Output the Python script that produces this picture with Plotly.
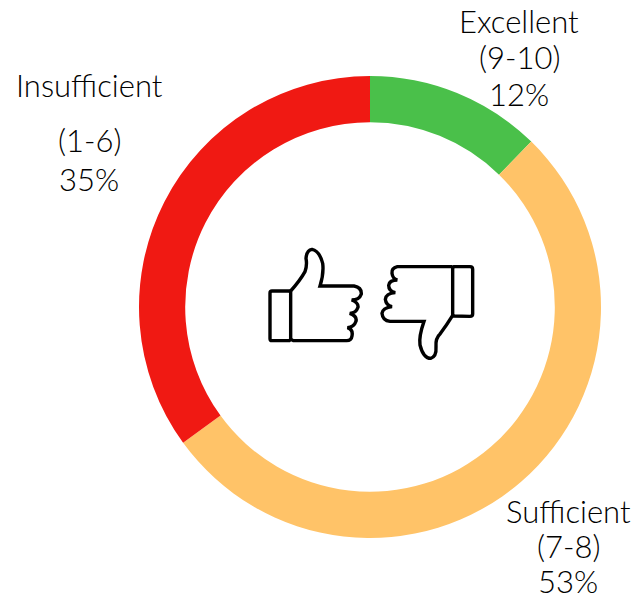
import plotly.graph_objects as go

W, H = 638, 600
categories = ["Excellent", "Sufficient", "Insufficient"]
ranges = ["(9-10)", "(7-8)", "(1-6)"]
values = [12.3, 52.7, 35]
colors = ["#4AC04A", "#FFC368", "#F01913"]
label_lines = [
    [("Excellent", 519, 21), ("(9-10)", 519, 57), ("12%", 519, 94)],
    [("Sufficient", 568, 511), ("(7-8)", 568, 546), ("53%", 568, 581)],
    [("Insufficient", 89, 85), ("(1-6)", 89, 140), ("35%", 89, 179)],
]


def px(x, y):
    return f"{x / W:.5f},{1 - y / H:.5f}"


def zoomed(zx, zy):
    return px(250 + zx / 3, 230 + zy / 3)


def path(cmds):
    out = []
    for c in cmds:
        if len(c) == 1:
            out.append(c[0])
        else:
            pts = " ".join(zoomed(c[i], c[i + 1]) for i in range(1, len(c), 2))
            out.append(f"{c[0]} {pts}")
    return " ".join(out)


icon_paths = [
    # thumbs up: cuff
    [("M", 66, 183), ("L", 118, 183), ("L", 122, 187), ("L", 122, 328), ("L", 118, 332),
     ("L", 66, 332), ("Q", 60, 332, 60, 326), ("L", 60, 189), ("Q", 60, 183, 66, 183), ("Z",)],
    # thumbs up: hand
    [("M", 122, 183), ("Q", 150, 152, 165, 125), ("Q", 172, 105, 168, 85), ("Q", 170, 60, 186, 58),
     ("Q", 208, 62, 218, 100), ("Q", 222, 130, 210, 168), ("L", 312, 168), ("Q", 335, 172, 334, 192),
     ("Q", 328, 210, 305, 210), ("Q", 326, 218, 324, 232), ("Q", 318, 250, 299, 250),
     ("Q", 322, 258, 318, 274), ("Q", 312, 292, 292, 293), ("Q", 310, 298, 306, 318),
     ("Q", 304, 332, 290, 332), ("L", 130, 332), ("L", 122, 328)],
    # thumbs down: cuff
    [("M", 612, 110), ("L", 660, 110), ("Q", 668, 110, 668, 118), ("L", 668, 252),
     ("Q", 668, 259, 660, 259), ("L", 612, 258), ("L", 608, 254), ("L", 608, 114), ("Z",)],
    # thumbs down: hand
    [("M", 608, 110), ("L", 442, 110), ("Q", 424, 114, 426, 130), ("Q", 428, 146, 442, 150),
     ("Q", 418, 150, 416, 166), ("Q", 416, 184, 436, 188), ("Q", 408, 190, 406, 208),
     ("Q", 408, 226, 426, 230), ("Q", 398, 234, 396, 250), ("Q", 398, 272, 420, 274),
     ("L", 522, 274), ("Q", 506, 320, 510, 345), ("Q", 520, 385, 542, 385),
     ("Q", 560, 380, 558, 350), ("Q", 556, 325, 570, 312), ("Q", 590, 285, 608, 256)],
]

fig = go.Figure(
    go.Pie(
        labels=categories,
        values=values,
        customdata=ranges,
        marker=dict(colors=colors, line=dict(width=0)),
        hole=0.8,
        sort=False,
        direction="clockwise",
        rotation=0,
        textinfo="none",
        showlegend=False,
        domain=dict(x=[139 / W, 601 / W], y=[1 - 538 / H, 1 - 76 / H]),
    )
)

for group in label_lines:
    for text, x, y in group:
        fig.add_annotation(
            text=text, x=x / W, y=1 - y / H, xref="paper", yref="paper",
            xanchor="center", yanchor="middle", showarrow=False,
            font=dict(family="Lato", size=31, color="#000000", weight=300),
        )

for p in icon_paths:
    fig.add_shape(type="path", path=path(p), xref="paper", yref="paper",
                  line=dict(color="#000000", width=3.4), fillcolor="rgba(0,0,0,0)")

fig.update_layout(width=W, height=H, margin=dict(l=0, r=0, t=0, b=0),
                  paper_bgcolor="white", plot_bgcolor="white")
fig.write_html("out.html", config={"displayModeBar": False},
               post_script="document.body.style.margin='0';document.body.style.overflow='hidden';")
